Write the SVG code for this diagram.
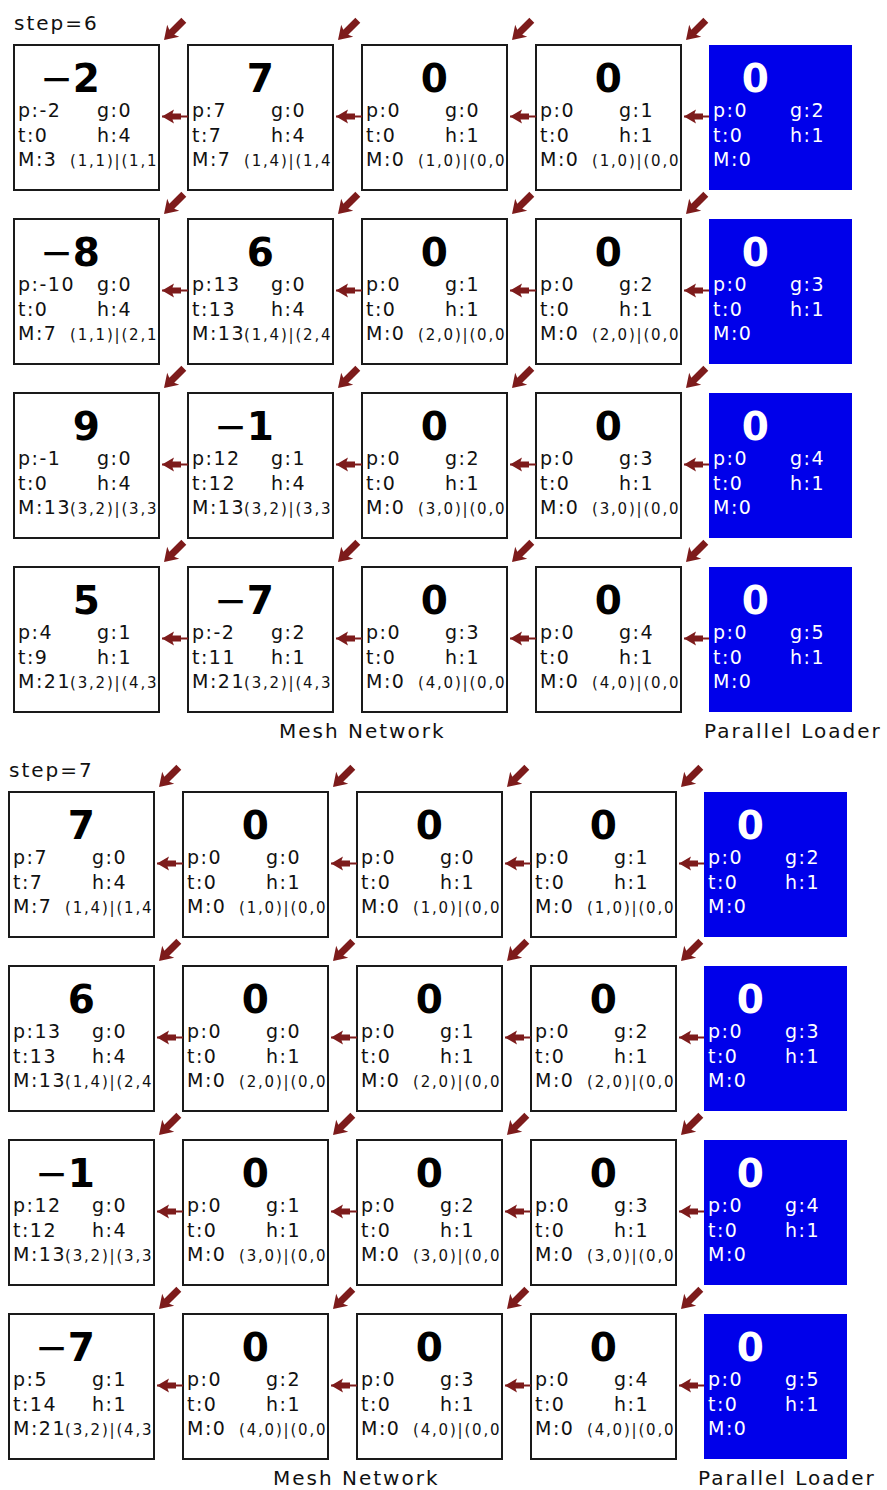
<svg xmlns="http://www.w3.org/2000/svg" xmlns:xlink="http://www.w3.org/1999/xlink" width="887" height="1490" viewBox="0 0 887 1490">
<style>
text{font-family:"DejaVu Sans","Liberation Sans",sans-serif;fill:#111}
.bx{fill:#fff;stroke:#1a1a1a;stroke-width:2}
.bl{fill:#0000ea}
.n{font-size:39px;font-weight:bold;text-anchor:end;fill:#000}
.m{font-weight:normal}
.f{font-size:19px;letter-spacing:1.5px}
.s{font-size:15px;letter-spacing:1.8px}
text.wh{fill:#fff}
.lab{font-size:20px;letter-spacing:2px}
.ar{fill:#7d1b1b}
.ln{stroke:#7d1b1b;stroke-width:2;fill:none}
</style>
<defs>
<path id="ah" class="ar" d="M0,0 L12,-7 L10.5,-3 L19,-3 L19,3 L10.5,3 L12,7 Z"/>
<path id="ad" class="ar" d="M0,0 L13,-8.5 L11,-3.5 L28,-3.5 L28,3.5 L11,3.5 L13,8.5 Z"/>
</defs>
<rect width="887" height="1490" fill="#fff"/>

<g id="labels">
<text class="lab" x="14" y="30">step=6</text>
<text class="lab" x="279" y="738">Mesh Network</text>
<text class="lab" x="704" y="738">Parallel Loader</text>
<text class="lab" x="9" y="777">step=7</text>
<text class="lab" x="273" y="1485">Mesh Network</text>
<text class="lab" x="698" y="1485">Parallel Loader</text>
</g>

<!-- STEP 6 -->
<g id="s6r1c1" transform="translate(14,45)"><rect class="bx" width="145" height="145"/><text class="n" x="86" y="47"><tspan class="m">−</tspan>2</text><text class="f" x="4" y="72">p:-2</text><text class="f" x="83" y="72">g:0</text><text class="f" x="4" y="97">t:0</text><text class="f" x="83" y="97">h:4</text><text class="f" x="4" y="121">M:3</text><text class="s" x="56" y="121">(1,1)|(1,1</text></g>
<g id="s6r1c2" transform="translate(188,45)"><rect class="bx" width="145" height="145"/><text class="n" x="86" y="47">7</text><text class="f" x="4" y="72">p:7</text><text class="f" x="83" y="72">g:0</text><text class="f" x="4" y="97">t:7</text><text class="f" x="83" y="97">h:4</text><text class="f" x="4" y="121">M:7</text><text class="s" x="56" y="121">(1,4)|(1,4</text></g>
<g id="s6r1c3" transform="translate(362,45)"><rect class="bx" width="145" height="145"/><text class="n" x="86" y="47">0</text><text class="f" x="4" y="72">p:0</text><text class="f" x="83" y="72">g:0</text><text class="f" x="4" y="97">t:0</text><text class="f" x="83" y="97">h:1</text><text class="f" x="4" y="121">M:0</text><text class="s" x="56" y="121">(1,0)|(0,0</text></g>
<g id="s6r1c4" transform="translate(536,45)"><rect class="bx" width="145" height="145"/><text class="n" x="86" y="47">0</text><text class="f" x="4" y="72">p:0</text><text class="f" x="83" y="72">g:1</text><text class="f" x="4" y="97">t:0</text><text class="f" x="83" y="97">h:1</text><text class="f" x="4" y="121">M:0</text><text class="s" x="56" y="121">(1,0)|(0,0</text></g>
<g id="s6r1c5" transform="translate(709,45)"><rect class="bl" width="143" height="145"/><text class="n wh" x="60" y="47">0</text><text class="f wh" x="4" y="72">p:0</text><text class="f wh" x="81" y="72">g:2</text><text class="f wh" x="4" y="97">t:0</text><text class="f wh" x="81" y="97">h:1</text><text class="f wh" x="4" y="121">M:0</text></g>

<g id="s6r2c1" transform="translate(14,219)"><rect class="bx" width="145" height="145"/><text class="n" x="86" y="47"><tspan class="m">−</tspan>8</text><text class="f" x="4" y="72">p:-10</text><text class="f" x="83" y="72">g:0</text><text class="f" x="4" y="97">t:0</text><text class="f" x="83" y="97">h:4</text><text class="f" x="4" y="121">M:7</text><text class="s" x="56" y="121">(1,1)|(2,1</text></g>
<g id="s6r2c2" transform="translate(188,219)"><rect class="bx" width="145" height="145"/><text class="n" x="86" y="47">6</text><text class="f" x="4" y="72">p:13</text><text class="f" x="83" y="72">g:0</text><text class="f" x="4" y="97">t:13</text><text class="f" x="83" y="97">h:4</text><text class="f" x="4" y="121">M:13</text><text class="s" x="56" y="121">(1,4)|(2,4</text></g>
<g id="s6r2c3" transform="translate(362,219)"><rect class="bx" width="145" height="145"/><text class="n" x="86" y="47">0</text><text class="f" x="4" y="72">p:0</text><text class="f" x="83" y="72">g:1</text><text class="f" x="4" y="97">t:0</text><text class="f" x="83" y="97">h:1</text><text class="f" x="4" y="121">M:0</text><text class="s" x="56" y="121">(2,0)|(0,0</text></g>
<g id="s6r2c4" transform="translate(536,219)"><rect class="bx" width="145" height="145"/><text class="n" x="86" y="47">0</text><text class="f" x="4" y="72">p:0</text><text class="f" x="83" y="72">g:2</text><text class="f" x="4" y="97">t:0</text><text class="f" x="83" y="97">h:1</text><text class="f" x="4" y="121">M:0</text><text class="s" x="56" y="121">(2,0)|(0,0</text></g>
<g id="s6r2c5" transform="translate(709,219)"><rect class="bl" width="143" height="145"/><text class="n wh" x="60" y="47">0</text><text class="f wh" x="4" y="72">p:0</text><text class="f wh" x="81" y="72">g:3</text><text class="f wh" x="4" y="97">t:0</text><text class="f wh" x="81" y="97">h:1</text><text class="f wh" x="4" y="121">M:0</text></g>

<g id="s6r3c1" transform="translate(14,393)"><rect class="bx" width="145" height="145"/><text class="n" x="86" y="47">9</text><text class="f" x="4" y="72">p:-1</text><text class="f" x="83" y="72">g:0</text><text class="f" x="4" y="97">t:0</text><text class="f" x="83" y="97">h:4</text><text class="f" x="4" y="121">M:13</text><text class="s" x="56" y="121">(3,2)|(3,3</text></g>
<g id="s6r3c2" transform="translate(188,393)"><rect class="bx" width="145" height="145"/><text class="n" x="86" y="47"><tspan class="m">−</tspan>1</text><text class="f" x="4" y="72">p:12</text><text class="f" x="83" y="72">g:1</text><text class="f" x="4" y="97">t:12</text><text class="f" x="83" y="97">h:4</text><text class="f" x="4" y="121">M:13</text><text class="s" x="56" y="121">(3,2)|(3,3</text></g>
<g id="s6r3c3" transform="translate(362,393)"><rect class="bx" width="145" height="145"/><text class="n" x="86" y="47">0</text><text class="f" x="4" y="72">p:0</text><text class="f" x="83" y="72">g:2</text><text class="f" x="4" y="97">t:0</text><text class="f" x="83" y="97">h:1</text><text class="f" x="4" y="121">M:0</text><text class="s" x="56" y="121">(3,0)|(0,0</text></g>
<g id="s6r3c4" transform="translate(536,393)"><rect class="bx" width="145" height="145"/><text class="n" x="86" y="47">0</text><text class="f" x="4" y="72">p:0</text><text class="f" x="83" y="72">g:3</text><text class="f" x="4" y="97">t:0</text><text class="f" x="83" y="97">h:1</text><text class="f" x="4" y="121">M:0</text><text class="s" x="56" y="121">(3,0)|(0,0</text></g>
<g id="s6r3c5" transform="translate(709,393)"><rect class="bl" width="143" height="145"/><text class="n wh" x="60" y="47">0</text><text class="f wh" x="4" y="72">p:0</text><text class="f wh" x="81" y="72">g:4</text><text class="f wh" x="4" y="97">t:0</text><text class="f wh" x="81" y="97">h:1</text><text class="f wh" x="4" y="121">M:0</text></g>

<g id="s6r4c1" transform="translate(14,567)"><rect class="bx" width="145" height="145"/><text class="n" x="86" y="47">5</text><text class="f" x="4" y="72">p:4</text><text class="f" x="83" y="72">g:1</text><text class="f" x="4" y="97">t:9</text><text class="f" x="83" y="97">h:1</text><text class="f" x="4" y="121">M:21</text><text class="s" x="56" y="121">(3,2)|(4,3</text></g>
<g id="s6r4c2" transform="translate(188,567)"><rect class="bx" width="145" height="145"/><text class="n" x="86" y="47"><tspan class="m">−</tspan>7</text><text class="f" x="4" y="72">p:-2</text><text class="f" x="83" y="72">g:2</text><text class="f" x="4" y="97">t:11</text><text class="f" x="83" y="97">h:1</text><text class="f" x="4" y="121">M:21</text><text class="s" x="56" y="121">(3,2)|(4,3</text></g>
<g id="s6r4c3" transform="translate(362,567)"><rect class="bx" width="145" height="145"/><text class="n" x="86" y="47">0</text><text class="f" x="4" y="72">p:0</text><text class="f" x="83" y="72">g:3</text><text class="f" x="4" y="97">t:0</text><text class="f" x="83" y="97">h:1</text><text class="f" x="4" y="121">M:0</text><text class="s" x="56" y="121">(4,0)|(0,0</text></g>
<g id="s6r4c4" transform="translate(536,567)"><rect class="bx" width="145" height="145"/><text class="n" x="86" y="47">0</text><text class="f" x="4" y="72">p:0</text><text class="f" x="83" y="72">g:4</text><text class="f" x="4" y="97">t:0</text><text class="f" x="83" y="97">h:1</text><text class="f" x="4" y="121">M:0</text><text class="s" x="56" y="121">(4,0)|(0,0</text></g>
<g id="s6r4c5" transform="translate(709,567)"><rect class="bl" width="143" height="145"/><text class="n wh" x="60" y="47">0</text><text class="f wh" x="4" y="72">p:0</text><text class="f wh" x="81" y="72">g:5</text><text class="f wh" x="4" y="97">t:0</text><text class="f wh" x="81" y="97">h:1</text><text class="f wh" x="4" y="121">M:0</text></g>

<!-- STEP 7 -->
<g id="s7r1c1" transform="translate(9,792)"><rect class="bx" width="145" height="145"/><text class="n" x="86" y="47">7</text><text class="f" x="4" y="72">p:7</text><text class="f" x="83" y="72">g:0</text><text class="f" x="4" y="97">t:7</text><text class="f" x="83" y="97">h:4</text><text class="f" x="4" y="121">M:7</text><text class="s" x="56" y="121">(1,4)|(1,4</text></g>
<g id="s7r1c2" transform="translate(183,792)"><rect class="bx" width="145" height="145"/><text class="n" x="86" y="47">0</text><text class="f" x="4" y="72">p:0</text><text class="f" x="83" y="72">g:0</text><text class="f" x="4" y="97">t:0</text><text class="f" x="83" y="97">h:1</text><text class="f" x="4" y="121">M:0</text><text class="s" x="56" y="121">(1,0)|(0,0</text></g>
<g id="s7r1c3" transform="translate(357,792)"><rect class="bx" width="145" height="145"/><text class="n" x="86" y="47">0</text><text class="f" x="4" y="72">p:0</text><text class="f" x="83" y="72">g:0</text><text class="f" x="4" y="97">t:0</text><text class="f" x="83" y="97">h:1</text><text class="f" x="4" y="121">M:0</text><text class="s" x="56" y="121">(1,0)|(0,0</text></g>
<g id="s7r1c4" transform="translate(531,792)"><rect class="bx" width="145" height="145"/><text class="n" x="86" y="47">0</text><text class="f" x="4" y="72">p:0</text><text class="f" x="83" y="72">g:1</text><text class="f" x="4" y="97">t:0</text><text class="f" x="83" y="97">h:1</text><text class="f" x="4" y="121">M:0</text><text class="s" x="56" y="121">(1,0)|(0,0</text></g>
<g id="s7r1c5" transform="translate(704,792)"><rect class="bl" width="143" height="145"/><text class="n wh" x="60" y="47">0</text><text class="f wh" x="4" y="72">p:0</text><text class="f wh" x="81" y="72">g:2</text><text class="f wh" x="4" y="97">t:0</text><text class="f wh" x="81" y="97">h:1</text><text class="f wh" x="4" y="121">M:0</text></g>

<g id="s7r2c1" transform="translate(9,966)"><rect class="bx" width="145" height="145"/><text class="n" x="86" y="47">6</text><text class="f" x="4" y="72">p:13</text><text class="f" x="83" y="72">g:0</text><text class="f" x="4" y="97">t:13</text><text class="f" x="83" y="97">h:4</text><text class="f" x="4" y="121">M:13</text><text class="s" x="56" y="121">(1,4)|(2,4</text></g>
<g id="s7r2c2" transform="translate(183,966)"><rect class="bx" width="145" height="145"/><text class="n" x="86" y="47">0</text><text class="f" x="4" y="72">p:0</text><text class="f" x="83" y="72">g:0</text><text class="f" x="4" y="97">t:0</text><text class="f" x="83" y="97">h:1</text><text class="f" x="4" y="121">M:0</text><text class="s" x="56" y="121">(2,0)|(0,0</text></g>
<g id="s7r2c3" transform="translate(357,966)"><rect class="bx" width="145" height="145"/><text class="n" x="86" y="47">0</text><text class="f" x="4" y="72">p:0</text><text class="f" x="83" y="72">g:1</text><text class="f" x="4" y="97">t:0</text><text class="f" x="83" y="97">h:1</text><text class="f" x="4" y="121">M:0</text><text class="s" x="56" y="121">(2,0)|(0,0</text></g>
<g id="s7r2c4" transform="translate(531,966)"><rect class="bx" width="145" height="145"/><text class="n" x="86" y="47">0</text><text class="f" x="4" y="72">p:0</text><text class="f" x="83" y="72">g:2</text><text class="f" x="4" y="97">t:0</text><text class="f" x="83" y="97">h:1</text><text class="f" x="4" y="121">M:0</text><text class="s" x="56" y="121">(2,0)|(0,0</text></g>
<g id="s7r2c5" transform="translate(704,966)"><rect class="bl" width="143" height="145"/><text class="n wh" x="60" y="47">0</text><text class="f wh" x="4" y="72">p:0</text><text class="f wh" x="81" y="72">g:3</text><text class="f wh" x="4" y="97">t:0</text><text class="f wh" x="81" y="97">h:1</text><text class="f wh" x="4" y="121">M:0</text></g>

<g id="s7r3c1" transform="translate(9,1140)"><rect class="bx" width="145" height="145"/><text class="n" x="86" y="47"><tspan class="m">−</tspan>1</text><text class="f" x="4" y="72">p:12</text><text class="f" x="83" y="72">g:0</text><text class="f" x="4" y="97">t:12</text><text class="f" x="83" y="97">h:4</text><text class="f" x="4" y="121">M:13</text><text class="s" x="56" y="121">(3,2)|(3,3</text></g>
<g id="s7r3c2" transform="translate(183,1140)"><rect class="bx" width="145" height="145"/><text class="n" x="86" y="47">0</text><text class="f" x="4" y="72">p:0</text><text class="f" x="83" y="72">g:1</text><text class="f" x="4" y="97">t:0</text><text class="f" x="83" y="97">h:1</text><text class="f" x="4" y="121">M:0</text><text class="s" x="56" y="121">(3,0)|(0,0</text></g>
<g id="s7r3c3" transform="translate(357,1140)"><rect class="bx" width="145" height="145"/><text class="n" x="86" y="47">0</text><text class="f" x="4" y="72">p:0</text><text class="f" x="83" y="72">g:2</text><text class="f" x="4" y="97">t:0</text><text class="f" x="83" y="97">h:1</text><text class="f" x="4" y="121">M:0</text><text class="s" x="56" y="121">(3,0)|(0,0</text></g>
<g id="s7r3c4" transform="translate(531,1140)"><rect class="bx" width="145" height="145"/><text class="n" x="86" y="47">0</text><text class="f" x="4" y="72">p:0</text><text class="f" x="83" y="72">g:3</text><text class="f" x="4" y="97">t:0</text><text class="f" x="83" y="97">h:1</text><text class="f" x="4" y="121">M:0</text><text class="s" x="56" y="121">(3,0)|(0,0</text></g>
<g id="s7r3c5" transform="translate(704,1140)"><rect class="bl" width="143" height="145"/><text class="n wh" x="60" y="47">0</text><text class="f wh" x="4" y="72">p:0</text><text class="f wh" x="81" y="72">g:4</text><text class="f wh" x="4" y="97">t:0</text><text class="f wh" x="81" y="97">h:1</text><text class="f wh" x="4" y="121">M:0</text></g>

<g id="s7r4c1" transform="translate(9,1314)"><rect class="bx" width="145" height="145"/><text class="n" x="86" y="47"><tspan class="m">−</tspan>7</text><text class="f" x="4" y="72">p:5</text><text class="f" x="83" y="72">g:1</text><text class="f" x="4" y="97">t:14</text><text class="f" x="83" y="97">h:1</text><text class="f" x="4" y="121">M:21</text><text class="s" x="56" y="121">(3,2)|(4,3</text></g>
<g id="s7r4c2" transform="translate(183,1314)"><rect class="bx" width="145" height="145"/><text class="n" x="86" y="47">0</text><text class="f" x="4" y="72">p:0</text><text class="f" x="83" y="72">g:2</text><text class="f" x="4" y="97">t:0</text><text class="f" x="83" y="97">h:1</text><text class="f" x="4" y="121">M:0</text><text class="s" x="56" y="121">(4,0)|(0,0</text></g>
<g id="s7r4c3" transform="translate(357,1314)"><rect class="bx" width="145" height="145"/><text class="n" x="86" y="47">0</text><text class="f" x="4" y="72">p:0</text><text class="f" x="83" y="72">g:3</text><text class="f" x="4" y="97">t:0</text><text class="f" x="83" y="97">h:1</text><text class="f" x="4" y="121">M:0</text><text class="s" x="56" y="121">(4,0)|(0,0</text></g>
<g id="s7r4c4" transform="translate(531,1314)"><rect class="bx" width="145" height="145"/><text class="n" x="86" y="47">0</text><text class="f" x="4" y="72">p:0</text><text class="f" x="83" y="72">g:4</text><text class="f" x="4" y="97">t:0</text><text class="f" x="83" y="97">h:1</text><text class="f" x="4" y="121">M:0</text><text class="s" x="56" y="121">(4,0)|(0,0</text></g>
<g id="s7r4c5" transform="translate(704,1314)"><rect class="bl" width="143" height="145"/><text class="n wh" x="60" y="47">0</text><text class="f wh" x="4" y="72">p:0</text><text class="f wh" x="81" y="72">g:5</text><text class="f wh" x="4" y="97">t:0</text><text class="f wh" x="81" y="97">h:1</text><text class="f wh" x="4" y="121">M:0</text></g>

<g id="connectors">
<path class="ln" d="M162,116.5H188M336,116.5H362M510,116.5H536M684,116.5H709M162,290.5H188M336,290.5H362M510,290.5H536M684,290.5H709M162,464.5H188M336,464.5H362M510,464.5H536M684,464.5H709M162,638.5H188M336,638.5H362M510,638.5H536M684,638.5H709"/>
<path class="ln" d="M157,863.5H183M331,863.5H357M505,863.5H531M679,863.5H704M157,1037.5H183M331,1037.5H357M505,1037.5H531M679,1037.5H704M157,1211.5H183M331,1211.5H357M505,1211.5H531M679,1211.5H704M157,1385.5H183M331,1385.5H357M505,1385.5H531M679,1385.5H704"/>
<use href="#ah" transform="translate(162,116.5)"/><use href="#ah" transform="translate(336,116.5)"/><use href="#ah" transform="translate(510,116.5)"/><use href="#ah" transform="translate(684,116.5)"/>
<use href="#ah" transform="translate(162,290.5)"/><use href="#ah" transform="translate(336,290.5)"/><use href="#ah" transform="translate(510,290.5)"/><use href="#ah" transform="translate(684,290.5)"/>
<use href="#ah" transform="translate(162,464.5)"/><use href="#ah" transform="translate(336,464.5)"/><use href="#ah" transform="translate(510,464.5)"/><use href="#ah" transform="translate(684,464.5)"/>
<use href="#ah" transform="translate(162,638.5)"/><use href="#ah" transform="translate(336,638.5)"/><use href="#ah" transform="translate(510,638.5)"/><use href="#ah" transform="translate(684,638.5)"/>
<use href="#ah" transform="translate(157,863.5)"/><use href="#ah" transform="translate(331,863.5)"/><use href="#ah" transform="translate(505,863.5)"/><use href="#ah" transform="translate(679,863.5)"/>
<use href="#ah" transform="translate(157,1037.5)"/><use href="#ah" transform="translate(331,1037.5)"/><use href="#ah" transform="translate(505,1037.5)"/><use href="#ah" transform="translate(679,1037.5)"/>
<use href="#ah" transform="translate(157,1211.5)"/><use href="#ah" transform="translate(331,1211.5)"/><use href="#ah" transform="translate(505,1211.5)"/><use href="#ah" transform="translate(679,1211.5)"/>
<use href="#ah" transform="translate(157,1385.5)"/><use href="#ah" transform="translate(331,1385.5)"/><use href="#ah" transform="translate(505,1385.5)"/><use href="#ah" transform="translate(679,1385.5)"/>

<use href="#ad" transform="translate(164,40) rotate(-45)"/><use href="#ad" transform="translate(338,40) rotate(-45)"/><use href="#ad" transform="translate(512,40) rotate(-45)"/><use href="#ad" transform="translate(686,40) rotate(-45)"/>
<use href="#ad" transform="translate(164,214) rotate(-45)"/><use href="#ad" transform="translate(338,214) rotate(-45)"/><use href="#ad" transform="translate(512,214) rotate(-45)"/><use href="#ad" transform="translate(686,214) rotate(-45)"/>
<use href="#ad" transform="translate(164,388) rotate(-45)"/><use href="#ad" transform="translate(338,388) rotate(-45)"/><use href="#ad" transform="translate(512,388) rotate(-45)"/><use href="#ad" transform="translate(686,388) rotate(-45)"/>
<use href="#ad" transform="translate(164,562) rotate(-45)"/><use href="#ad" transform="translate(338,562) rotate(-45)"/><use href="#ad" transform="translate(512,562) rotate(-45)"/><use href="#ad" transform="translate(686,562) rotate(-45)"/>
<use href="#ad" transform="translate(159,787) rotate(-45)"/><use href="#ad" transform="translate(333,787) rotate(-45)"/><use href="#ad" transform="translate(507,787) rotate(-45)"/><use href="#ad" transform="translate(681,787) rotate(-45)"/>
<use href="#ad" transform="translate(159,961) rotate(-45)"/><use href="#ad" transform="translate(333,961) rotate(-45)"/><use href="#ad" transform="translate(507,961) rotate(-45)"/><use href="#ad" transform="translate(681,961) rotate(-45)"/>
<use href="#ad" transform="translate(159,1135) rotate(-45)"/><use href="#ad" transform="translate(333,1135) rotate(-45)"/><use href="#ad" transform="translate(507,1135) rotate(-45)"/><use href="#ad" transform="translate(681,1135) rotate(-45)"/>
<use href="#ad" transform="translate(159,1309) rotate(-45)"/><use href="#ad" transform="translate(333,1309) rotate(-45)"/><use href="#ad" transform="translate(507,1309) rotate(-45)"/><use href="#ad" transform="translate(681,1309) rotate(-45)"/>
</g>
</svg>
